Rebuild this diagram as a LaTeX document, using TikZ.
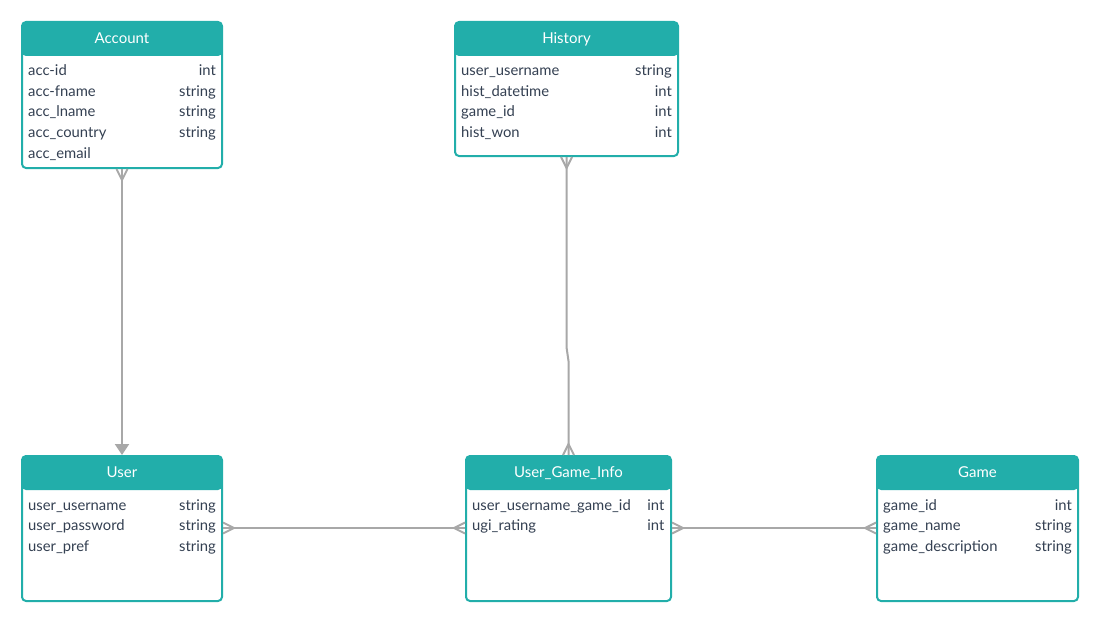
\documentclass[tikz,border=0pt]{standalone}
\usepackage{fontspec}
\setmainfont{Lato}
\usetikzlibrary{arrows.meta}
\definecolor{tealc}{HTML}{22AEAA}
\definecolor{txtc}{RGB}{52,64,82}
\definecolor{linec}{HTML}{A8A8A8}
\tikzset{
  entity/.style={draw=tealc, line width=2pt, rounded corners=4pt, fill=white, inner sep=0pt,
    path picture={\fill[tealc] (path picture bounding box.north west) rectangle ([yshift=-34pt]path picture bounding box.north east);}},
  title/.style={anchor=base, text=white, font=\fontsize{15}{17}\selectfont, inner sep=0pt},
  fld/.style={anchor=base west, text=txtc, font=\fontsize{14.8}{17}\selectfont, inner sep=0pt},
  typ/.style={anchor=base east, text=txtc, font=\fontsize{14.8}{17}\selectfont, inner sep=0pt},
  conn/.style={draw=linec, line width=2pt},
}
\begin{document}
\begin{tikzpicture}[x=1pt,y=-1pt]
\useasboundingbox (0,0) rectangle (1100,623);
% entities
\node[entity, minimum width=200pt, minimum height=146pt] (acc) at (122,95) {};
\node[entity, minimum width=223pt, minimum height=134pt] (hist) at (566.5,89) {};
\node[entity, minimum width=200pt, minimum height=145pt] (user) at (122,528.5) {};
\node[entity, minimum width=205pt, minimum height=145pt] (ugi) at (568.5,528.5) {};
\node[entity, minimum width=201pt, minimum height=145pt] (game) at (977.5,528.5) {};
% titles
\node[title] (accT) at (122,44) {Account};
\node[title] (histT) at (566.5,44) {History};
\node[title] (userT) at (122,477.5) {User};
\node[title] (ugiT) at (568.5,477.5) {User\_Game\_Info};
\node[title] (gameT) at (977.5,477.5) {Game};
% Account fields
\node[fld] (a1) at (28,76) {acc-id};
\node[fld] (a2) at (28,96.5) {acc-fname};
\node[fld] (a3) at (28,117) {acc\_lname};
\node[fld] (a4) at (28,137.5) {acc\_country};
\node[fld] (a5) at (28,158) {acc\_email};
\node[typ] (a1t) at (216,76) {int};
\node[typ] (a2t) at (216,96.5) {string};
\node[typ] (a3t) at (216,117) {string};
\node[typ] (a4t) at (216,137.5) {string};
% History fields
\node[fld] (h1) at (461,76) {user\_username};
\node[fld] (h2) at (461,96.5) {hist\_datetime};
\node[fld] (h3) at (461,117) {game\_id};
\node[fld] (h4) at (461,137.5) {hist\_won};
\node[typ] (h1t) at (672,76) {string};
\node[typ] (h2t) at (672,96.5) {int};
\node[typ] (h3t) at (672,117) {int};
\node[typ] (h4t) at (672,137.5) {int};
% User fields
\node[fld] (u1) at (28,510) {user\_username};
\node[fld] (u2) at (28,530.5) {user\_password};
\node[fld] (u3) at (28,551) {user\_pref};
\node[typ] (u1t) at (216,510) {string};
\node[typ] (u2t) at (216,530.5) {string};
\node[typ] (u3t) at (216,551) {string};
% UGI fields
\node[fld] (g1) at (472,510) {user\_username\_game\_id};
\node[fld] (g2) at (472,530.5) {ugi\_rating};
\node[typ] (g1t) at (664.5,510) {int};
\node[typ] (g2t) at (664.5,530.5) {int};
% Game fields
\node[fld] (m1) at (883,510) {game\_id};
\node[fld] (m2) at (883,530.5) {game\_name};
\node[fld] (m3) at (883,551) {game\_description};
\node[typ] (m1t) at (1072,510) {int};
\node[typ] (m2t) at (1072,530.5) {string};
\node[typ] (m3t) at (1072,551) {string};
% connectors
\draw[conn, -{Triangle[width=14pt,length=11pt]}] (acc.south) -- (user.north);
\draw[conn] ([xshift=-5.5pt]acc.south) -- ([yshift=-11pt]acc.south) -- ([xshift=5.5pt]acc.south);
\draw[conn] (hist.south) -- ++(0,190) -- ([yshift=94pt]ugi.north) -- (ugi.north);
\draw[conn] ([xshift=-5.5pt]hist.south) -- ([yshift=-11pt]hist.south) -- ([xshift=5.5pt]hist.south);
\draw[conn] ([xshift=-5.5pt]ugi.north) -- ([yshift=11pt]ugi.north) -- ([xshift=5.5pt]ugi.north);
\coordinate (uR) at (user.east |- 0,528);
\coordinate (gL) at (ugi.west |- 0,528);
\coordinate (gR) at (ugi.east |- 0,528);
\coordinate (mL) at (game.west |- 0,528);
\draw[conn] (uR) -- (gL);
\draw[conn] ([yshift=5.5pt]uR) -- ([xshift=11pt]uR) -- ([yshift=-5.5pt]uR);
\draw[conn] ([yshift=5.5pt]gL) -- ([xshift=-11pt]gL) -- ([yshift=-5.5pt]gL);
\draw[conn] (gR) -- (mL);
\draw[conn] ([yshift=5.5pt]gR) -- ([xshift=11pt]gR) -- ([yshift=-5.5pt]gR);
\draw[conn] ([yshift=5.5pt]mL) -- ([xshift=-11pt]mL) -- ([yshift=-5.5pt]mL);
\end{tikzpicture}
\end{document}
